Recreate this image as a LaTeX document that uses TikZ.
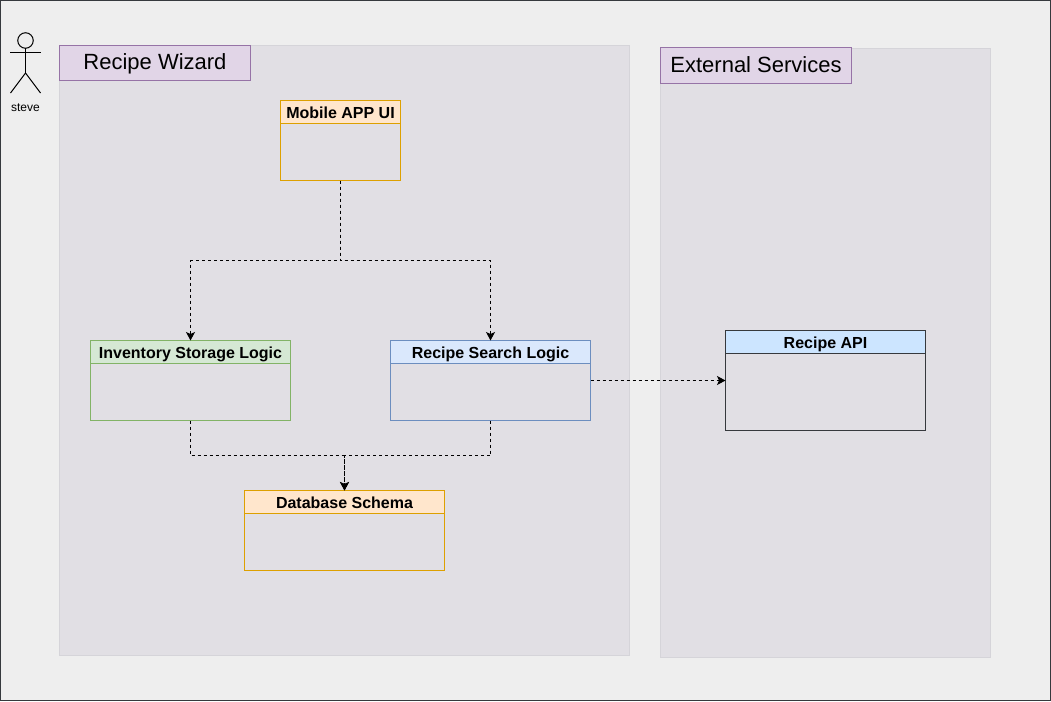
\documentclass[tikz,border=0pt]{standalone}
\usepackage{fontspec}
\setmainfont{Liberation Sans}
\usetikzlibrary{arrows.meta}
\definecolor{pagebg}{HTML}{EEEEEE}
\definecolor{pageline}{HTML}{36393D}
\definecolor{panelbg}{HTML}{E1DFE4}
\definecolor{panelline}{HTML}{D5D4D9}
\definecolor{titlebg}{HTML}{E1D5E7}
\definecolor{titleline}{HTML}{9673A6}
\definecolor{orangebg}{HTML}{FFE6CC}
\definecolor{orangeline}{HTML}{DDA000}
\definecolor{greenbg}{HTML}{D5E8D4}
\definecolor{greenline}{HTML}{82B366}
\definecolor{bluebg}{HTML}{DAE8FC}
\definecolor{blueline}{HTML}{6C8EBF}
\definecolor{apibg}{HTML}{CCE5FF}
\tikzset{
    panel/.style={draw=panelline, fill=panelbg, line width=1pt, outer sep=0pt, inner sep=0pt},
    paneltitle/.style={draw=titleline, fill=titlebg, line width=1pt, outer sep=0pt, inner sep=0pt, font=\fontsize{22}{26}\selectfont, text height=17pt, text depth=3pt, minimum width=191pt, minimum height=35pt},
    classbox/.style={draw=#1, line width=1pt, outer sep=0pt, inner sep=0pt},
    classhead/.style={draw=#1, line width=1pt, outer sep=0pt, inner sep=0pt, anchor=north, minimum height=23pt, text height=14pt, text depth=1pt, font=\fontsize{16}{19}\selectfont\bfseries},
    dep/.style={dash pattern=on 3pt off 3pt, line width=1pt, -{Stealth[length=8.5pt,width=9pt,inset=2pt]}},
}
\begin{document}
\begin{tikzpicture}[x=1pt,y=-1pt]
    \useasboundingbox (0,0) rectangle (1051,701);
    \draw [fill=pagebg, draw=pageline, line width=1pt] (0.5,0.5) rectangle (1050.5,700.5);

    % panels
    \node (wizard) at (344.5,350.5) [panel, minimum width=570pt, minimum height=610pt] {};
    \node (external) at (825.5,353) [panel, minimum width=330pt, minimum height=609pt] {};
    \node (wizardtitle) at (155,63) [paneltitle] {Recipe Wizard};
    \node (externaltitle) at (756,65.5) [paneltitle] {External Services};

    % actor
    \coordinate (neck) at (25.5,48.5);
    \coordinate (hip) at (25.5,73);
    \draw [line width=1pt, fill=pagebg] (25.5,40.5) circle (7.75pt);
    \draw [line width=1pt] (neck) -- (hip);
    \draw [line width=1pt] (10,53) -- (41,53);
    \draw [line width=1pt] (10.5,93) -- (hip) -- (40.5,93);
    \node (steve) at (25.5,111) [anchor=base, font=\fontsize{12}{14}\selectfont, inner sep=0pt] {steve};

    % boxes
    \node (mobile) at (340.5,140.5) [classbox=orangeline, minimum width=120pt, minimum height=80pt] {};
    \node (mobilehead) at (mobile.north) [classhead=orangeline, fill=orangebg, minimum width=120pt] {Mobile APP UI};

    \node (inventory) at (190.5,380.5) [classbox=greenline, minimum width=200pt, minimum height=80pt] {};
    \node (inventoryhead) at (inventory.north) [classhead=greenline, fill=greenbg, minimum width=200pt] {Inventory Storage Logic};

    \node (search) at (490.5,380.5) [classbox=blueline, minimum width=200pt, minimum height=80pt] {};
    \node (searchhead) at (search.north) [classhead=blueline, fill=bluebg, minimum width=200pt] {Recipe Search Logic};

    \node (schema) at (344.5,530.5) [classbox=orangeline, minimum width=200pt, minimum height=80pt] {};
    \node (schemahead) at (schema.north) [classhead=orangeline, fill=orangebg, minimum width=200pt] {Database Schema};

    \node (api) at (825.5,380.5) [classbox=pageline, minimum width=200pt, minimum height=100pt] {};
    \node (apihead) at (api.north) [classhead=pageline, fill=apibg, minimum width=200pt] {Recipe API};

    % connectors
    \coordinate (split) at (340.5,260.5);
    \coordinate (merge) at (344.5,455.5);
    \draw [dep] (mobile.south) -- (split) -| (inventory.north);
    \draw [dep] (mobile.south) -- (split) -| (search.north);
    \draw [dep] (inventory.south) |- (merge) -- (schema.north);
    \draw [dep] (search.south) |- (merge) -- (schema.north);
    \draw [dep] (search.east) -- (api.west);
\end{tikzpicture}
\end{document}
